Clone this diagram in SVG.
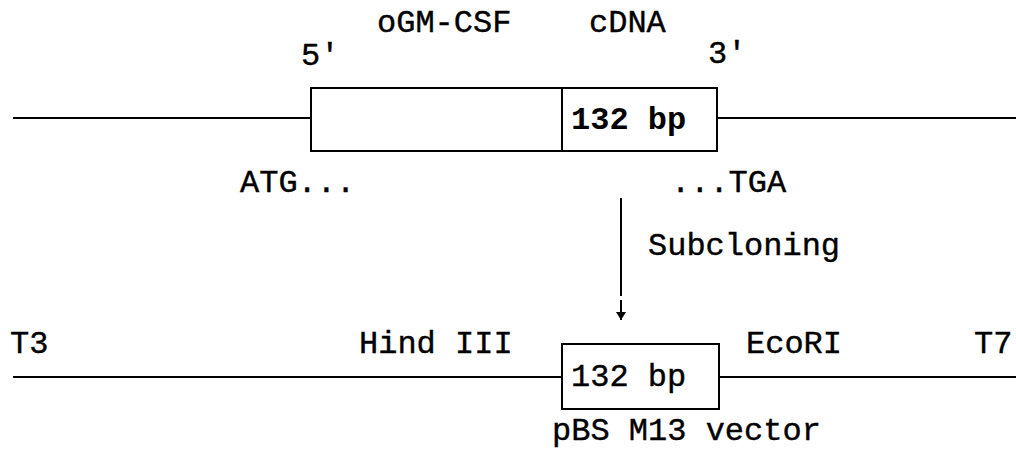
<svg xmlns="http://www.w3.org/2000/svg" width="1016" height="452" viewBox="0 0 1016 452">
<style>
.t{font-family:"Liberation Mono","Courier New",monospace;font-size:32px;fill:#000;stroke:#000;stroke-width:0.4}
.b{font-weight:bold;stroke-width:0}
.ln{stroke:#000;stroke-width:2;fill:none}
.bx{stroke:#000;stroke-width:2;fill:#fff}
</style>
<defs>
<marker id="ah" markerWidth="12" markerHeight="12" refX="8" refY="5" orient="auto" markerUnits="userSpaceOnUse">
<path d="M0,0 L8,5 L0,10 Z" fill="#000"/>
</marker>
</defs>
<g id="connectors">
<line class="ln" x1="13" y1="118" x2="311" y2="118"/>
<line class="ln" x1="717" y1="118" x2="1016" y2="118"/>
<line class="ln" x1="13" y1="377" x2="562" y2="377"/>
<line class="ln" x1="719" y1="377" x2="1016" y2="377"/>
<line class="ln" x1="621" y1="198" x2="621" y2="296"/>
<line class="ln" x1="621" y1="300" x2="621" y2="320" marker-end="url(#ah)"/>
</g>
<g id="cdna">
<rect class="bx" x="311" y="88" width="406" height="63"/>
<line class="ln" x1="562" y1="88" x2="562" y2="151"/>
<text class="t b" x="571" y="129">132 bp</text>
</g>
<g id="insert">
<rect class="bx" x="562" y="344" width="157" height="65"/>
<text class="t" x="571" y="386">132 bp</text>
</g>
<g id="labels">
<text class="t" x="377" y="32">oGM-CSF</text>
<text class="t" x="589" y="32">cDNA</text>
<text class="t" x="301" y="65">5'</text>
<text class="t" x="708" y="63">3'</text>
<text class="t" x="240" y="192">ATG...</text>
<text class="t" x="671" y="192">...TGA</text>
<text class="t" x="648" y="255">Subcloning</text>
<text class="t" x="10" y="353">T3</text>
<text class="t" x="359" y="353">Hind III</text>
<text class="t" x="746" y="353">EcoRI</text>
<text class="t" x="974" y="353">T7</text>
<text class="t" x="552" y="440">pBS M13 vector</text>
</g>
</svg>
